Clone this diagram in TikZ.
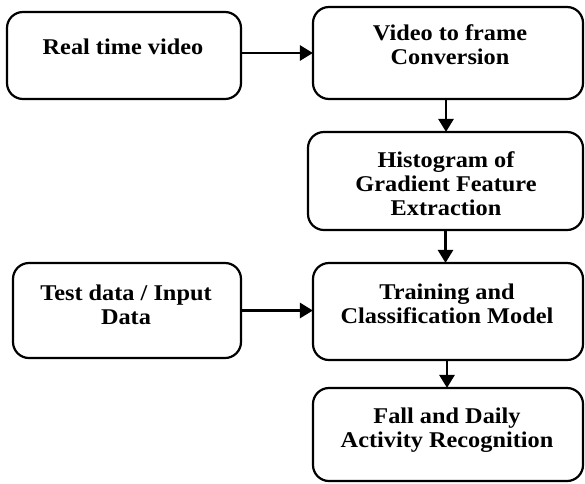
\documentclass[tikz,border=0pt]{standalone}
\usepackage{fontspec}
\setmainfont{Liberation Serif}[FakeStretch=1.08]
\usetikzlibrary{arrows.meta}
\begin{document}
\begin{tikzpicture}[x=1pt,y=-1pt,
  stagebox/.style={draw=black, line width=2.2pt, rounded corners=16pt, inner sep=0pt},
  stagetext/.style={align=center, font=\fontsize{22.5}{24}\selectfont\bfseries, inner sep=0pt},
  flow/.style={line width=2.8pt, -{Triangle[length=13pt,width=15pt]}, shorten >=-1pt}
]
\useasboundingbox (0,0) rectangle (585,483);
% boxes: centre and size of each stage
\node[stagebox, minimum width=234pt, minimum height=87pt] (b1) at (124,55.5) {};
\node[stagebox, minimum width=270pt, minimum height=92pt] (b2) at (448,53) {};
\node[stagebox, minimum width=275pt, minimum height=98pt] (b3) at (445.5,181) {};
\node[stagebox, minimum width=228pt, minimum height=95pt] (b4) at (127,310.5) {};
\node[stagebox, minimum width=270pt, minimum height=97pt] (b5) at (448,311.5) {};
\node[stagebox, minimum width=270pt, minimum height=93pt] (b6) at (448,434.5) {};
% labels
\node[stagetext] (t1) at (123,47) {Real time video};
\node[stagetext] (t2) at (450,45) {Video to frame\\Conversion};
\node[stagetext] (t3) at (446,184) {Histogram of\\Gradient Feature\\Extraction};
\node[stagetext] (t4) at (126,304.5) {Test data / Input\\Data};
\node[stagetext] (t5) at (447,304) {Training and\\Classification Model};
\node[stagetext] (t6) at (447,430) {Fall and Daily\\Activity Recognition};
% connectors
\draw[flow] ([yshift=2.5pt]b1.east) -- ([yshift=2.5pt]b1.east -| b2.west);
\draw[flow] ([xshift=-2pt]b2.south) -- ([xshift=-2pt]b2.south |- b3.north);
\draw[flow] (b3.south) -- (b3.south |- b5.north);
\draw[flow] (b4.east) -- (b4.east -| b5.west);
\draw[flow] ([xshift=-1pt]b5.south) -- ([xshift=-1pt]b5.south |- b6.north);
\end{tikzpicture}
\end{document}
